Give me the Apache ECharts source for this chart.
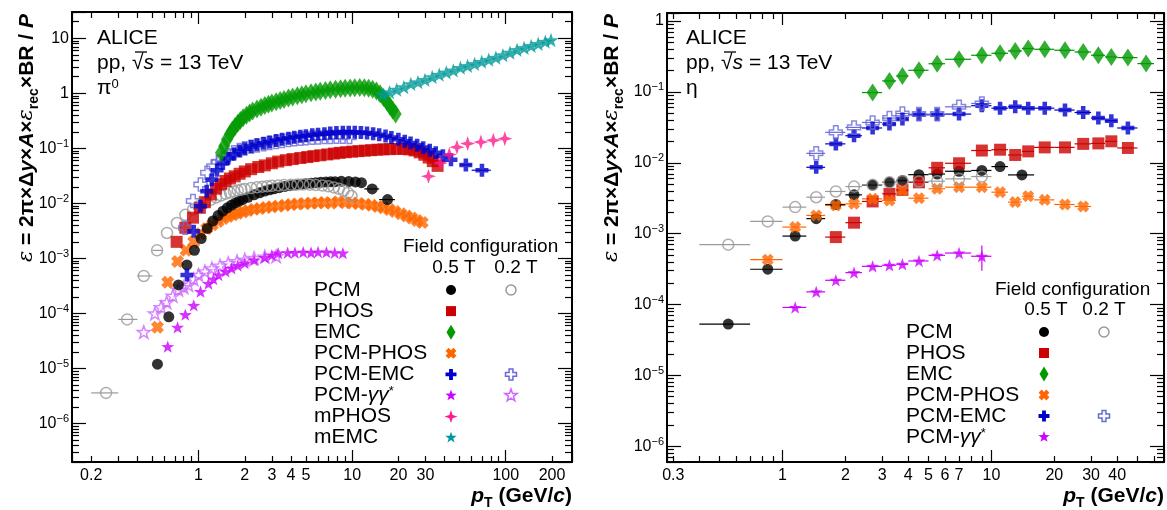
<!DOCTYPE html>
<html><head><meta charset="utf-8">
<script src="https://cdn.jsdelivr.net/npm/echarts@6/dist/echarts.min.js"></script>
<style>html,body{margin:0;padding:0;background:#fff}#c{width:1167px;height:510px}</style>
</head><body><div id="c"></div>
<script>
// ---------------- tick labels ----------------
const pi0XTicks = [0.2, 1, 2, 3, 4, 5, 10, 20, 30, 100, 200];
const etaXTicks = [0.3, 1, 2, 3, 4, 5, 6, 7, 10, 20, 30, 40];
const pi0YTicks = [1e-6, 1e-5, 1e-4, 1e-3, 1e-2, 1e-1, 1, 10];
const etaYTicks = [1e-6, 1e-5, 1e-4, 1e-3, 1e-2, 1e-1, 1];

// ---------------- pi0 data : [pT, eps, (binLow, binHigh)] ----------------
const pi0_PCM = [[0.54,1.2e-5],[0.64,8.7e-5],[0.74,3.3e-4],[0.84,7.6e-4],[0.94,1.4e-3],[1.04,2.3e-3],[1.14,3.5e-3],[1.24,4.8e-3],[1.34,6.0e-3],[1.44,7.2e-3],[1.54,8.3e-3],[1.64,9.3e-3],[1.74,0.0102],[1.84,0.011],[1.94,0.0118],[2.1,0.0129],[2.3,0.0143],[2.5,0.0156],[2.7,0.0167],[2.9,0.0176],[3.1,0.0184],[3.35,0.0193],[3.65,0.0203],[3.95,0.021],[4.25,0.0216],[4.6,0.0222],[5.0,0.0228],[5.4,0.0233],[5.8,0.0236],[6.25,0.0241],[6.75,0.0244],[7.25,0.0246],[7.75,0.0248],[8.5,0.0252],[9.5,0.0249],[10.5,0.0245],[11.5,0.0238],[13.5,0.0183,12,15],[17,0.0117,15,19]];
const pi0_PCM_02T = [[0.25,3.6e-6,0.2,0.3],[0.343,7.8e-5,0.3,0.4],[0.44,4.8e-4,0.4,0.5],[0.537,1.4e-3,0.5,0.58],[0.623,2.9e-3],[0.723,4.4e-3],[0.82,6.2e-3],[0.92,7.7e-3],[1.0,8.9e-3],[1.1,0.0103],[1.2,0.0116],[1.3,0.0128],[1.4,0.0139],[1.5,0.0149],[1.6,0.0157],[1.7,0.0165],[1.8,0.0172],[1.9,0.0178],[2.0,0.0183],[2.2,0.019],[2.4,0.0196],[2.6,0.0201],[2.8,0.0205],[3.0,0.0208],[3.3,0.0212],[3.6,0.0215],[4.0,0.0218],[4.4,0.022],[4.8,0.022],[5.3,0.0219],[5.8,0.0216],[6.4,0.0211],[7.0,0.0204],[7.6,0.0195],[8.2,0.0184],[8.8,0.0171],[9.4,0.0155],[9.9,0.0136]];
const pi0_PHOS = [[0.72,0.0020],[0.82,0.0036],[0.92,0.0055],[1.02,0.0083],[1.1,0.0105],[1.2,0.0145],[1.3,0.0185],[1.4,0.0222],[1.5,0.0255],[1.6,0.0283],[1.72,0.031],[1.85,0.0345],[2.0,0.038],[2.2,0.0418],[2.45,0.0458],[2.7,0.049],[3.0,0.0535],[3.3,0.0575],[3.7,0.061],[4.1,0.0638],[4.6,0.0668],[5.1,0.0695],[5.6,0.0722],[6.2,0.0748],[6.9,0.0775],[7.6,0.0803],[8.3,0.0828],[9.1,0.085],[10,0.087],[11,0.089],[12.1,0.0908],[13.3,0.0925],[14.6,0.0945],[16,0.0958],[17.6,0.0968],[19.5,0.0978],[21.5,0.098],[23.5,0.0958],[25.5,0.0915],[27.5,0.0845],[29.5,0.0765],[31.5,0.068],[33.5,0.0585],[36,0.048]];
const pi0_EMC = [[1.4,0.083],[1.47,0.11],[1.53,0.145],[1.6,0.18],[1.66,0.215],[1.73,0.25],[1.8,0.285],[1.87,0.32],[1.95,0.36],[2.05,0.4],[2.15,0.44],[2.25,0.475],[2.4,0.52],[2.55,0.56],[2.7,0.6],[2.85,0.635],[3.0,0.665],[3.2,0.7],[3.4,0.74],[3.6,0.775],[3.85,0.82],[4.1,0.86],[4.4,0.9],[4.7,0.94],[5.0,0.98],[5.4,1.02],[5.8,1.06],[6.2,1.09],[6.7,1.13],[7.2,1.16],[7.8,1.19],[8.4,1.21],[9.0,1.23],[9.7,1.25],[10.4,1.26],[11.2,1.27],[12.0,1.26],[12.8,1.24],[13.6,1.19],[14.4,1.1],[15.2,0.98],[16.0,0.84],[16.8,0.71],[17.6,0.59],[18.4,0.49],[19.2,0.42]];
const pi0_PCMPHOS = [[0.54,5.6e-5],[0.63,3.7e-4],[0.73,8.8e-4],[0.83,0.0014],[0.93,0.002],[1.03,0.0028],[1.13,0.0035],[1.23,0.0041],[1.34,0.0047],[1.45,0.0053],[1.56,0.0058],[1.68,0.0062],[1.8,0.0066],[1.95,0.007],[2.1,0.0074],[2.3,0.0078],[2.5,0.0081],[2.75,0.0084],[3.0,0.0087],[3.3,0.0089],[3.65,0.0092],[4.0,0.0095],[4.4,0.0097],[4.9,0.0099],[5.4,0.0101],[6.0,0.0102],[6.6,0.0104],[7.3,0.0101],[8.1,0.0107],[9.0,0.0103],[10,0.0102],[11,0.0099],[12.2,0.0096],[13.4,0.0092],[14.7,0.0088],[16,0.0083],[17.5,0.0077],[19,0.0071],[20.8,0.0065],[22.6,0.0059],[24.5,0.0054],[26.5,0.0049],[28.6,0.0045]];
const pi0_PCMEMC = [[0.84,0.0005],[0.93,0.0031],[1.03,0.0089],[1.13,0.0166],[1.22,0.027],[1.32,0.04],[1.44,0.053],[1.56,0.066],[1.7,0.078],[1.85,0.089],[2.0,0.098],[2.2,0.108],[2.4,0.116],[2.65,0.124],[2.9,0.131],[3.2,0.139],[3.5,0.146],[3.85,0.153],[4.2,0.159],[4.6,0.165],[5.0,0.17],[5.5,0.176],[6.0,0.18],[6.6,0.185],[7.2,0.189],[7.9,0.193],[8.7,0.196],[9.5,0.197],[10.4,0.196],[11.4,0.193],[12.5,0.19],[13.7,0.185],[15,0.177],[16.5,0.168],[18,0.158],[20,0.146],[22,0.135],[24,0.125],[26.5,0.114],[29,0.103],[32,0.092],[35,0.083],[39,0.073],[44,0.062],[55,0.05,50,60],[70,0.04,60,80]];
const pi0_PCMEMC_02T = [[0.82,0.0036],[0.92,0.011],[1.03,0.022],[1.14,0.036],[1.25,0.047],[1.35,0.057],[1.45,0.066],[1.56,0.075],[1.7,0.085],[1.85,0.093],[2.0,0.1],[2.2,0.107],[2.4,0.113],[2.65,0.119],[2.9,0.125],[3.2,0.131],[3.5,0.136],[3.85,0.141],[4.2,0.146],[4.6,0.15],[5.0,0.153],[5.5,0.156],[6.0,0.158],[6.6,0.16],[7.2,0.161],[7.9,0.162],[8.7,0.162],[9.6,0.16]];
const pi0_GG = [[0.63,2.5e-5],[0.73,5.6e-5],[0.82,9.5e-5],[0.93,1.4e-4],[1.03,2.5e-4],[1.16,3.5e-4],[1.25,4.2e-4],[1.35,5.0e-4],[1.5,5.8e-4],[1.64,6.6e-4],[1.8,7.4e-4],[2.0,8.2e-4],[2.3,9.3e-4],[2.7,1.04e-3],[3.0,1.15e-3],[3.3,1.25e-3],[3.8,1.27e-3],[4.24,1.28e-3],[4.8,1.3e-3],[5.4,1.28e-3],[6.0,1.31e-3],[6.8,1.3e-3],[7.7,1.27e-3],[8.7,1.25e-3]];
const pi0_GG_02T = [[0.44,4.6e-5],[0.52,1.0e-4],[0.57,1.3e-4],[0.62,1.6e-4],[0.68,2.1e-4],[0.74,2.7e-4],[0.8,3.0e-4],[0.86,3.3e-4],[0.93,4.2e-4],[1.0,5.0e-4],[1.1,5.8e-4],[1.22,6.6e-4],[1.38,7.4e-4],[1.56,8.2e-4],[1.78,8.9e-4],[2.0,9.5e-4],[2.3,1.02e-3],[2.7,1.08e-3],[3.2,1.1e-3]];
const pi0_mPHOS = [[31.4,0.031],[37.5,0.054],[42.9,0.077],[48.1,0.105],[56.5,0.122],[68.9,0.13],[83,0.14],[98.6,0.15]];
const pi0_mEMC = [[15.8,0.96],[17.5,1.05],[19.5,1.17],[21.7,1.3],[24.1,1.48],[26.8,1.6],[29.8,1.76],[33.2,1.98],[36.9,2.18],[41,2.4],[45.6,2.62],[50.7,2.92],[56.4,3.15],[62.7,3.42],[69.7,3.75],[77.5,4.1],[86.2,4.45],[95.8,4.95],[106.5,5.5],[118.4,6.15],[131.7,6.7],[146.4,7.3],[162.8,7.95],[181,8.7],[197,9.3]];

// ---------------- eta data : bin edges + values ----------------
const eta_PCM_bins = [0.4,0.7,1.0,1.3,1.6,2,2.4,3,3.5,4,5,6,8,10,12,16];
const eta_PCM = [5.3e-5,3.15e-4,9.25e-4,1.63e-3,2.58e-3,3.53e-3,4.85e-3,5.3e-3,5.65e-3,6.8e-3,6.95e-3,7.6e-3,7.8e-3,8.85e-3,6.75e-3];
const eta_PCM_02T_bins = [0.4,0.7,1.0,1.3,1.6,2,2.4,3,3.5,4,5,6,8,10];
const eta_PCM_02T = [7.0e-4,1.49e-3,2.37e-3,3.27e-3,3.94e-3,4.62e-3,4.89e-3,5.3e-3,5.5e-3,5.44e-3,5.5e-3,5.93e-3,6.4e-3];
const eta_PHOS_bins = [1.6,2,2.4,3,3.5,4,5,6,8,10,12,14,16,20,25,30,35,40,50];
const eta_PHOS = [8.95e-4,1.43e-3,2.85e-3,3.65e-3,4.15e-3,5.3e-3,8.5e-3,9.85e-3,0.0149,0.0153,0.0129,0.0145,0.0165,0.0165,0.0185,0.0188,0.0201,0.0162];
const eta_EMC_bins = [2.4,3,3.5,4,5,6,8,10,12,14,16,20,25,30,35,40,50,60];
const eta_EMC = [0.098,0.143,0.168,0.202,0.25,0.289,0.329,0.351,0.379,0.41,0.40,0.387,0.366,0.329,0.312,0.305,0.251];
const eta_PCMPHOS_bins = [0.7,1,1.3,1.6,2,2.4,3,3.5,4,5,6,8,10,12,14,16,20,25,30];
const eta_PCMPHOS = [4.3e-4,1.24e-3,1.81e-3,2.5e-3,2.64e-3,3.1e-3,2.94e-3,4.06e-3,3.17e-3,4.3e-3,4.53e-3,4.53e-3,3.85e-3,2.79e-3,3.38e-3,3.0e-3,2.58e-3,2.42e-3];
const eta_PCMEMC_bins = [1.3,1.6,2,2.4,3,3.5,4,5,6,8,10,12,14,16,20,25,30,35,40,50];
const eta_PCMEMC = [0.00865,0.0185,0.0241,0.031,0.0352,0.0414,0.0476,0.0476,0.0487,0.064,0.059,0.0617,0.059,0.059,0.0555,0.0513,0.0428,0.0392,0.031];
const eta_PCMEMC_02T_bins = [1.3,1.6,2,2.4,3,3.5,4,5,6,8,10];
const eta_PCMEMC_02T = [0.0136,0.0269,0.0316,0.0371,0.0428,0.0497,0.0487,0.0487,0.0617,0.0687];
const eta_GG_bins = [1,1.3,1.6,2,2.4,3,3.5,4,5,6,8,10];
const eta_GG = [9.1e-5,1.51e-4,2.2e-4,2.82e-4,3.46e-4,3.58e-4,3.7e-4,4.12e-4,4.95e-4,5.33e-4,4.8e-4];
const eta_GG_yerr = [null,null,null,null,null,null,null,null,null,null,[3.0e-4,6.8e-4]];

// ---------------- legend labels ----------------
const pi0LegendNames = ['PCM','PHOS','EMC','PCM-PHOS','PCM-EMC','PCM-γγ*','mPHOS','mEMC'];
const etaLegendNames = ['PCM','PHOS','EMC','PCM-PHOS','PCM-EMC','PCM-γγ*'];

// ---------------- styles ----------------
const FONT = 'Liberation Sans, Arial, Helvetica, sans-serif';
const SHAPES = {
  plus: [[-7,-20],[7,-20],[7,-7],[20,-7],[20,7],[7,7],[7,20],[-7,20],[-7,7],[-20,7],[-20,-7],[-7,-7]],
  x: [[8.49,-19.8],[19.8,-8.49],[11.31,0],[19.8,8.49],[8.49,19.8],[0,11.31],[-8.49,19.8],[-19.8,8.49],[-11.31,0],[-19.8,-8.49],[-8.49,-19.8],[0,-11.31]],
  star5: [[0,-20],[4.7,-6.47],[19.02,-6.18],[7.61,2.47],[11.76,16.18],[0,8],[-11.76,16.18],[-7.61,2.47],[-19.02,-6.18],[-4.7,-6.47]],
  star4: [[0,-20],[5,-5],[20,0],[5,5],[0,20],[-5,5],[-20,0],[-5,-5]]
};
function pathOf(pts){ return 'path://M' + pts.map(p => p[0] + ',' + p[1]).join('L') + 'Z'; }
const STY = {
  pcm:      {symbol:'circle', size:10, color:'#000000'},
  pcm02:    {symbol:'circle', size:10, color:'#9a9a9a', open:true},
  phos:     {symbol:'rect', size:10, color:'#cc0000'},
  emc:      {symbol:'diamond', size:[9,15], color:'#009a00'},
  pcmphos:  {shape:'x', size:11, color:'#ff6600'},
  pcmemc:   {shape:'plus', size:11, color:'#0000cc'},
  pcmemc02: {shape:'plus', size:11, color:'#6a6ad8', open:true},
  gg:       {shape:'star5', size:12, color:'#cc00ff'},
  gg02:     {shape:'star5', size:13, color:'#cc66ff', open:true},
  mphos:    {shape:'star4', size:13, color:'#ff1a8c'},
  memc:     {shape:'star5', size:12, color:'#009999'}
};

function scatter(name, rows, key, gi, size) {
  const st = STY[key];
  return {
    type:'scatter', name, xAxisIndex: gi*2, yAxisIndex: gi*2,
    data: rows.map(r => [r[0], r[1]]),
    symbol: st.shape ? pathOf(SHAPES[st.shape]) : st.symbol,
    symbolSize: size || st.size, symbolKeepAspect: true,
    itemStyle: st.open ? {color:'rgba(255,255,255,0)', borderColor: st.color, borderWidth: 1.5}
                       : {color: st.color, borderWidth: 0},
    emphasis: {disabled: true}, silent: true, z: 3
  };
}
function errBars(rows, key, gi) {
  const color = STY[key].color;
  return {
    type:'custom', xAxisIndex: gi*2, yAxisIndex: gi*2, data: rows, encode:{x:0, y:1},
    silent: true, z: 2, clip: true,
    renderItem(params, api) {
      const x = api.value(0), y = api.value(1), lo = api.value(2), hi = api.value(3), yl = api.value(4), yh = api.value(5);
      const ch = [];
      if (lo > 0 && hi > 0) {
        const a = api.coord([lo, y]), b = api.coord([hi, y]);
        ch.push({type:'line', shape:{x1:a[0], y1:a[1], x2:b[0], y2:b[1]}, style:{stroke: color, lineWidth: 1.2}});
      }
      if (yl > 0 && yh > 0) {
        const a = api.coord([x, yl]), b = api.coord([x, yh]);
        ch.push({type:'line', shape:{x1:a[0], y1:a[1], x2:b[0], y2:b[1]}, style:{stroke: color, lineWidth: 1.2}});
      }
      return {type:'group', children: ch};
    }
  };
}
function binned(edges, vals, yerr) {
  return vals.map((v, i) => {
    const e = yerr && yerr[i];
    return [(edges[i] + edges[i+1]) / 2, v, edges[i], edges[i+1], e ? e[0] : null, e ? e[1] : null];
  });
}
function withBins(rows) { return rows.filter(r => r.length >= 4).map(r => [r[0], r[1], r[2], r[3], null, null]); }

// ---------------- axes ----------------
function fmtX(v) { return String(+(+v).toPrecision(6)); }
function fmtY(v) {
  const e = Math.round(Math.log10(v));
  if (e === 0) return '1';
  if (e === 1) return '10';
  return '10{s|' + (e < 0 ? '\u2212' : '') + Math.abs(e) + '}';
}
function xAxis(gi, min, max, ticks, pos) {
  return {
    type:'log', logBase:10, gridIndex: gi, position: pos, min, max,
    axisLine:{show:true, onZero:false, lineStyle:{color:'#000', width:2}},
    axisTick:{show:true, inside:true, length:12, lineStyle:{color:'#000', width:1.2}},
    minorTick:{show:true, splitNumber:9, length:6, lineStyle:{color:'#000', width:1.2}},
    splitLine:{show:false}, minorSplitLine:{show:false},
    axisLabel:{show: pos === 'bottom', customValues: ticks, formatter: fmtX, margin: 6,
      color:'#000', fontSize:16, fontFamily: FONT},
    axisPointer:{show:false}
  };
}
function yAxis(gi, min, max, ticks, pos) {
  return {
    type:'log', logBase:10, gridIndex: gi, position: pos, min, max,
    axisLine:{show:true, onZero:false, lineStyle:{color:'#000', width:2}},
    axisTick:{show:true, inside:true, length:14, lineStyle:{color:'#000', width:1.2}},
    minorTick:{show:true, splitNumber:9, length:7, lineStyle:{color:'#000', width:1.2}},
    splitLine:{show:false}, minorSplitLine:{show:false},
    axisLabel:{show: pos === 'left', customValues: ticks, formatter: fmtY, margin: 3,
      color:'#000', fontSize:16, fontFamily: FONT, lineHeight: 20,
      rich:{s:{fontSize:11, lineHeight:11, verticalAlign:'top', fontFamily: FONT, color:'#000'}}},
    axisPointer:{show:false}
  };
}

// ---------------- graphic texts / legend ----------------
const RICH = {
  g:  {fontSize:21, fontStyle:'italic', fontFamily: FONT, fill:'#000'},
  s:  {fontSize:13, verticalAlign:'top', lineHeight:13, fontFamily: FONT, fill:'#000'},
  it: {fontSize:21, fontStyle:'italic', fontFamily: FONT, fill:'#000'},
  sp: {fontSize:13, verticalAlign:'top', lineHeight:13, fontFamily: FONT, fill:'#000'}
};
function legText(name) { return name.replace('γγ*', '{g|γγ}{s|*}'); }
function txt(x, y, text, opt) {
  return {type:'text', x, y, silent:true, style: Object.assign({text, fontSize:21, fontFamily: FONT,
    fill:'#000', align:'left', verticalAlign:'middle', rich: RICH}, opt || {})};
}
function gMarker(key, cx, cy) {
  const st = STY[key];
  const fill = st.open ? 'rgba(255,255,255,0)' : st.color;
  const stroke = st.open ? st.color : null;
  if (st.symbol === 'circle') return {type:'circle', silent:true, shape:{cx, cy, r: st.size/2}, style:{fill, stroke, lineWidth:1.5}};
  if (st.symbol === 'rect') return {type:'rect', silent:true, shape:{x: cx - st.size/2, y: cy - st.size/2, width: st.size, height: st.size}, style:{fill}};
  if (st.symbol === 'diamond') { const w = st.size[0]/2, h = st.size[1]/2;
    return {type:'polygon', silent:true, shape:{points:[[cx,cy-h],[cx+w,cy],[cx,cy+h],[cx-w,cy]]}, style:{fill}}; }
  const s = st.size / 40;
  return {type:'polygon', silent:true, shape:{points: SHAPES[st.shape].map(p => [cx + p[0]*s, cy + p[1]*s])},
    style:{fill, stroke, lineWidth: st.open ? 1.5 : 0}};
}
function legend(names, keys05, keys02, xText, xM1, xM2, y0, dy) {
  const els = [];
  names.forEach((n, i) => {
    const y = y0 + i * dy;
    els.push(txt(xText, y, legText(n)));
    if (keys05[i]) els.push(gMarker(keys05[i], xM1, y));
    if (keys02[i]) els.push(gMarker(keys02[i], xM2, y));
  });
  return els;
}
const yTitle = '{e|ε}{b| = 2π×Δ}{bi|y}{b|×}{bi|A}{b|×}{e|ε}{sb|rec}{b|×BR / }{bi|P}';
const xTitle = '{bi|p}{sb|T}{b| (GeV/}{bi|c}{b|)}';
const TRICH = {
  b:  {fontSize:21, fontWeight:'bold', fontFamily: FONT, fill:'#000', lineHeight:28},
  bi: {fontSize:21, fontWeight:'bold', fontStyle:'italic', fontFamily: FONT, fill:'#000', lineHeight:28},
  e:  {fontSize:21, fontStyle:'italic', fontFamily:'DejaVu Serif, serif', fill:'#000', lineHeight:28},
  sb: {fontSize:14, fontWeight:'bold', fontFamily: FONT, fill:'#000', verticalAlign:'bottom', lineHeight:14}
};
function title(x, y, text, rot, align) {
  return {type:'text', x, y, rotation: rot, silent:true,
    style:{text, rich: TRICH, align, verticalAlign:'middle', fontSize:21, fontFamily: FONT}};
}
// overline of the square root: short line over the italic s
function overline(x1, x2, y) { return {type:'line', silent:true, shape:{x1, y1:y, x2, y2:y}, style:{stroke:'#000', lineWidth:1.3}}; }

const graphics = [].concat(
  [txt(97, 38, 'ALICE'), txt(97, 63, 'pp, √{it|s} = 13 TeV'), txt(97, 88, 'π{sp|0}'),
   txt(686, 38, 'ALICE'), txt(686, 63, 'pp, √{it|s} = 13 TeV'), txt(686, 88, 'η'),
   overline(135, 147, 52), overline(724, 736, 52),
   txt(403, 247, 'Field configuration', {fontSize:19}),
   txt(454, 268, '0.5 T', {fontSize:19, align:'center'}),
   txt(516, 268, '0.2 T', {fontSize:19, align:'center'}),
   txt(995, 290, 'Field configuration', {fontSize:19}),
   txt(1046, 310, '0.5 T', {fontSize:19, align:'center'}),
   txt(1104, 310, '0.2 T', {fontSize:19, align:'center'}),
   title(27, 14, yTitle, Math.PI/2, 'right'),
   title(612, 14, yTitle, Math.PI/2, 'right'),
   title(572, 496, xTitle, 0, 'right'),
   title(1164, 496, xTitle, 0, 'right')],
  legend(pi0LegendNames, ['pcm','phos','emc','pcmphos','pcmemc','gg','mphos','memc'],
         ['pcm02',null,null,null,'pcmemc02','gg02',null,null], 314, 451, 511, 290, 21.1),
  legend(etaLegendNames, ['pcm','phos','emc','pcmphos','pcmemc','gg'],
         ['pcm02',null,null,null,'pcmemc02',null], 906, 1044, 1104, 332, 21)
);

// ---------------- series ----------------
const etaRows = {
  pcm: binned(eta_PCM_bins, eta_PCM), pcm02: binned(eta_PCM_02T_bins, eta_PCM_02T),
  phos: binned(eta_PHOS_bins, eta_PHOS), emc: binned(eta_EMC_bins, eta_EMC),
  pcmphos: binned(eta_PCMPHOS_bins, eta_PCMPHOS), pcmemc: binned(eta_PCMEMC_bins, eta_PCMEMC),
  pcmemc02: binned(eta_PCMEMC_02T_bins, eta_PCMEMC_02T), gg: binned(eta_GG_bins, eta_GG, eta_GG_yerr)
};
const series = [
  errBars(withBins(pi0_PCM_02T), 'pcm02', 0), errBars(withBins(pi0_PCM), 'pcm', 0), errBars(withBins(pi0_PCMEMC), 'pcmemc', 0),
  scatter('π0 PCM-γγ* 0.2 T', pi0_GG_02T, 'gg02', 0, 13),
  scatter('π0 PCM-γγ* 0.5 T', pi0_GG, 'gg', 0, 13),
  scatter('π0 PCM-PHOS', pi0_PCMPHOS, 'pcmphos', 0, 13),
  scatter('π0 PCM 0.5 T', pi0_PCM, 'pcm', 0, 11),
  scatter('π0 PCM 0.2 T', pi0_PCM_02T, 'pcm02', 0, 11),
  scatter('π0 PHOS', pi0_PHOS, 'phos', 0, 12),
  scatter('π0 PCM-EMC 0.2 T', pi0_PCMEMC_02T, 'pcmemc02', 0, 13),
  scatter('π0 PCM-EMC 0.5 T', pi0_PCMEMC, 'pcmemc', 0, 13),
  scatter('π0 EMC', pi0_EMC, 'emc', 0, [12,19]),
  scatter('π0 mPHOS', pi0_mPHOS, 'mphos', 0, 15),
  scatter('π0 mEMC', pi0_mEMC, 'memc', 0, 15)
];
['pcm','phos','pcmphos','pcm02','gg','pcmemc','pcmemc02','emc'].forEach(k => series.push(errBars(etaRows[k], k, 1)));
series.push(
  scatter('η PCM 0.5 T', etaRows.pcm, 'pcm', 1, 11),
  scatter('η PHOS', etaRows.phos, 'phos', 1, 12),
  scatter('η PCM-PHOS', etaRows.pcmphos, 'pcmphos', 1, 12),
  scatter('η PCM 0.2 T', etaRows.pcm02, 'pcm02', 1, 11),
  scatter('η PCM-γγ*', etaRows.gg, 'gg', 1, 13),
  scatter('η PCM-EMC 0.5 T', etaRows.pcmemc, 'pcmemc', 1, 13),
  scatter('η PCM-EMC 0.2 T', etaRows.pcmemc02, 'pcmemc02', 1, 13),
  scatter('η EMC', etaRows.emc, 'emc', 1, [12,18])
);

const chart = echarts.init(document.getElementById('c'), null, {renderer:'canvas'});
chart.setOption({
  animation: false,
  backgroundColor: '#ffffff',
  textStyle: {fontFamily: FONT},
  grid: [
    {left:72, top:12, width:500, height:450, show:false},
    {left:667, top:13, width:497, height:449, show:false}
  ],
  xAxis: [
    xAxis(0, 0.15, 270, pi0XTicks, 'bottom'), xAxis(0, 0.15, 270, pi0XTicks, 'top'),
    xAxis(1, 0.28, 67, etaXTicks, 'bottom'), xAxis(1, 0.28, 67, etaXTicks, 'top')
  ],
  yAxis: [
    yAxis(0, 2e-7, 30, pi0YTicks, 'left'), yAxis(0, 2e-7, 30, pi0YTicks, 'right'),
    yAxis(1, 6e-7, 1.3, etaYTicks, 'left'), yAxis(1, 6e-7, 1.3, etaYTicks, 'right')
  ],
  series,
  graphic: {elements: graphics}
});
</script>
</body></html>
